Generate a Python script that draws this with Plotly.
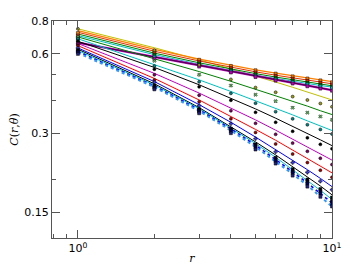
import plotly.graph_objects as go

r = [1, 2, 3, 4, 5, 6, 7, 8, 9, 10]

# model curves (lines), top group
T1 = [0.735, 0.624, 0.573, 0.543, 0.522, 0.507, 0.495, 0.486, 0.478, 0.471]
T2 = [0.725, 0.614, 0.564, 0.534, 0.513, 0.498, 0.486, 0.477, 0.469, 0.462]
T3 = [0.714, 0.604, 0.555, 0.525, 0.505, 0.490, 0.478, 0.469, 0.461, 0.454]
T4 = [0.704, 0.596, 0.548, 0.519, 0.498, 0.484, 0.472, 0.463, 0.455, 0.449]
T5 = [0.662, 0.584, 0.543, 0.516, 0.496, 0.479, 0.467, 0.455, 0.446, 0.437]
# model curves, spreading group
S1 = [0.747, 0.633, 0.570, 0.527, 0.494, 0.469, 0.448, 0.430, 0.415, 0.401]
S2 = [0.696, 0.577, 0.514, 0.472, 0.441, 0.416, 0.396, 0.380, 0.365, 0.353]
S3 = [0.685, 0.548, 0.478, 0.432, 0.399, 0.373, 0.352, 0.334, 0.320, 0.307]
S4 = [0.670, 0.533, 0.458, 0.408, 0.371, 0.342, 0.319, 0.300, 0.283, 0.269]
S5 = [0.657, 0.506, 0.426, 0.374, 0.337, 0.308, 0.285, 0.267, 0.251, 0.237]
S6 = [0.645, 0.484, 0.401, 0.348, 0.310, 0.282, 0.259, 0.241, 0.225, 0.212]
S7 = [0.632, 0.471, 0.385, 0.330, 0.290, 0.260, 0.237, 0.218, 0.202, 0.188]
S8 = [0.625, 0.462, 0.375, 0.318, 0.278, 0.248, 0.224, 0.205, 0.189, 0.175]
S9 = [0.618, 0.457, 0.372, 0.314, 0.274, 0.243, 0.218, 0.199, 0.182, 0.168]
S10 = [0.612, 0.453, 0.368, 0.311, 0.270, 0.239, 0.214, 0.194, 0.177, 0.163]
S11 = [0.605, 0.449, 0.364, 0.307, 0.266, 0.235, 0.210, 0.190, 0.173, 0.158]

# measured points (markers)
M_T1 = [0.720, 0.615, 0.570, 0.540, 0.520, 0.505, 0.493, 0.484, 0.476, 0.468]
M_T2 = [0.705, 0.605, 0.560, 0.530, 0.510, 0.495, 0.483, 0.474, 0.466, 0.459]
M_T3 = [0.690, 0.595, 0.552, 0.522, 0.502, 0.487, 0.475, 0.466, 0.458, 0.451]
M_T4 = [0.675, 0.585, 0.545, 0.515, 0.495, 0.480, 0.469, 0.460, 0.452, 0.446]
M_T5 = [0.655, 0.575, 0.537, 0.510, 0.490, 0.475, 0.463, 0.452, 0.443, 0.435]
M_S1 = [0.747, 0.620, 0.545, 0.480, 0.447, 0.429, 0.413, 0.401, 0.389, 0.378]
M_S2 = [0.696, 0.565, 0.500, 0.455, 0.420, 0.397, 0.375, 0.359, 0.347, 0.337]
M_S3 = [0.685, 0.540, 0.470, 0.425, 0.390, 0.362, 0.340, 0.323, 0.310, 0.298]
M_S4 = [0.670, 0.525, 0.450, 0.400, 0.360, 0.330, 0.305, 0.288, 0.272, 0.262]
M_S5 = [0.657, 0.500, 0.418, 0.365, 0.327, 0.297, 0.275, 0.256, 0.241, 0.228]
M_S6 = [0.645, 0.478, 0.395, 0.340, 0.302, 0.273, 0.250, 0.232, 0.217, 0.204]
M_S7 = [0.632, 0.468, 0.382, 0.326, 0.286, 0.255, 0.232, 0.213, 0.197, 0.183]
M_S8 = [0.620, 0.455, 0.370, 0.312, 0.272, 0.242, 0.219, 0.200, 0.184, 0.171]
M_S9 = [0.615, 0.450, 0.366, 0.309, 0.268, 0.238, 0.215, 0.196, 0.180, 0.166]
M_S10 = [0.610, 0.446, 0.362, 0.305, 0.265, 0.235, 0.212, 0.193, 0.177, 0.162]
M_S11 = [0.600, 0.440, 0.357, 0.300, 0.260, 0.230, 0.207, 0.188, 0.172, 0.158]

y_major = [0.15, 0.3, 0.6, 0.8]
y_major_text = ["0.15", "0.3", "0.6", "0.8"]
y_minor = [0.2, 0.4, 0.5]
x_major = [1, 10]
x_major_text = ["10<sup>0</sup>", "10<sup>1</sup>"]
x_minor = [0.8, 0.9, 2, 3, 4, 5, 6, 7, 8, 9]

fig = go.Figure()

line_series = [
    (S1, "#bfbf00", 1, "solid"),
    (T1, "#ff7f00", 1.3, "solid"),
    (T2, "#e03000", 1, "solid"),
    (T3, "#008000", 1, "solid"),
    (T4, "#00bfbf", 1, "solid"),
    (T5, "#bf00bf", 2.2, "solid"),
    (T5, "#400040", 1, "solid"),
    (S2, "#008000", 1, "solid"),
    (S3, "#00bfbf", 1, "solid"),
    (S4, "#000000", 1, "solid"),
    (S5, "#bf00bf", 1, "solid"),
    (S6, "#ff0000", 1, "solid"),
    (S7, "#0000ff", 1, "solid"),
    (S8, "#000000", 1, "solid"),
    (S9, "#00bfbf", 1, "solid"),
    (S10, "#0000ff", 1.6, "dot"),
    (S11, "#3399ff", 2.0, "dot"),
]
for ys, col, w, dash in line_series:
    fig.add_trace(go.Scatter(x=r, y=ys, mode="lines",
                             line=dict(color=col, width=w, dash=dash),
                             showlegend=False, hoverinfo="skip"))

marker_series = [
    (M_T1, "#ff7f00", "square"),
    (M_T2, "#e03000", "square"),
    (M_T3, "#008000", "square"),
    (M_T4, "#00bfbf", "square"),
    (M_T5, "#bf00bf", "square"),
    (M_S1, "#9a9a20", "circle"),
    (M_S2, "#60c060", "x"),
    (M_S3, "#008080", "circle"),
    (M_S4, "#000000", "circle"),
    (M_S5, "#800060", "circle"),
    (M_S6, "#a00000", "circle"),
    (M_S7, "#4040ff", "cross"),
    (M_S8, "#000000", "square"),
    (M_S9, "#000030", "square"),
    (M_S10, "#000060", "square"),
    (M_S11, "#202080", "square"),
]
for ys, col, sym in marker_series:
    fig.add_trace(go.Scatter(x=r, y=ys, mode="markers",
                             marker=dict(color=col, size=3, symbol=sym,
                                         line=dict(color="black", width=0.5)),
                             showlegend=False, hoverinfo="skip"))

axis_common = dict(
    showgrid=False, zeroline=False, showline=True, linecolor="#555555",
    linewidth=1, mirror="ticks", ticks="inside", ticklen=8, tickwidth=1,
    tickcolor="#555555", automargin=False,
    tickfont=dict(family="DejaVu Sans", size=11, color="black"),
)

# the page body has an 8px margin, so the figure is 8px smaller and its
# top/left margins are reduced by 8px to land the axes where the reference has them
fig.update_layout(
    width=342, height=272,
    margin=dict(l=44, r=18, t=13, b=42),
    paper_bgcolor="white", plot_bgcolor="white",
    font=dict(color="black"),
    xaxis=dict(type="log", range=[-0.102, 1.0], tickmode="array",
               tickvals=x_major, ticktext=x_major_text,
               minor=dict(tickmode="array", tickvals=x_minor, ticks="inside",
                          ticklen=4, tickcolor="#555555"),
               title=dict(text="<i>r</i>", standoff=0,
                          font=dict(family="DejaVu Serif", size=11, color="black")),
               **axis_common),
    yaxis=dict(type="log", range=[-0.921, -0.0969], tickmode="array",
               tickvals=y_major, ticktext=y_major_text,
               minor=dict(tickmode="array", tickvals=y_minor, ticks="inside",
                          ticklen=4, tickcolor="#555555"),
               title=dict(text="<i>C</i>(<i>r</i>,<i>θ</i>)", standoff=6,
                          font=dict(family="DejaVu Serif", size=11, color="black")),
               **axis_common),
)

fig.write_html("out.html")
